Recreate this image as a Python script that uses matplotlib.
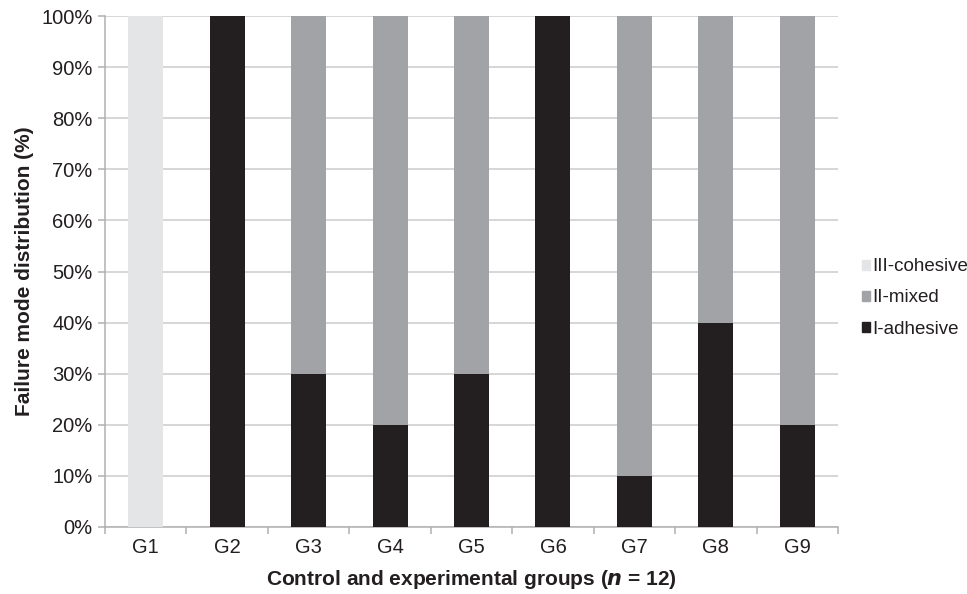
import numpy as np
import matplotlib.pyplot as plt
from matplotlib.patches import Patch
from matplotlib.ticker import PercentFormatter

plt.rcParams['font.family'] = ['Liberation Sans', 'DejaVu Sans']

groups = ["G1", "G2", "G3", "G4", "G5", "G6", "G7", "G8", "G9"]
adhesive = [0, 100, 30, 20, 30, 100, 10, 40, 20]
mixed = [0, 0, 70, 80, 70, 0, 90, 60, 80]
cohesive = [100, 0, 0, 0, 0, 0, 0, 0, 0]

c_adh = "#231f20"
c_mix = "#a2a3a6"
c_coh = "#e4e5e6"
grid_c = "#cbcbcb"
txt_c = "#231f20"

fig = plt.figure(figsize=(9.67, 5.94), dpi=100)
# plot area in pixels: x 105..838, y 16..527
ax = fig.add_axes([105 / 967, 1 - 527 / 594, (838 - 105) / 967, (527 - 16) / 594])

x = np.arange(len(groups))
w = 0.43
ax.bar(x, adhesive, w, color=c_adh, zorder=3)
ax.bar(x, mixed, w, bottom=adhesive, color=c_mix, zorder=3)
ax.bar(x, cohesive, w, bottom=np.array(adhesive) + np.array(mixed), color=c_coh, zorder=3)

ax.set_xlim(-0.5, len(groups) - 0.5)
ax.set_ylim(0, 100)
ax.set_yticks(np.arange(0, 101, 10))
ax.yaxis.set_major_formatter(PercentFormatter(decimals=0))
ax.grid(axis="y", color=grid_c, linewidth=1.1, zorder=0)

ax.set_xticks(x)
ax.set_xticklabels(groups)
ax.set_xticks(np.arange(-0.5, len(groups), 1), minor=True)
ax.tick_params(axis="x", which="major", length=0, pad=8, labelsize=14.5)
ax.tick_params(axis="x", which="minor", length=5, color="#b0b0b0", width=1.1)
ax.tick_params(axis="y", length=5, color="#b0b0b0", width=1.1, labelsize=14.5, pad=4)
for lab in ax.get_yticklabels() + ax.get_xticklabels():
    lab.set_color(txt_c)

for s in ["top", "right"]:
    ax.spines[s].set_visible(False)
for s in ["left", "bottom"]:
    ax.spines[s].set_color("#b0b0b0")
    ax.spines[s].set_linewidth(1.1)

ax.set_ylabel("Failure mode distribution (%)", fontsize=15, fontweight="bold", color=txt_c, labelpad=5)
ax.set_xlabel(r"Control and experimental groups ($\boldsymbol{n}$ = 12)", fontsize=15,
              fontweight="bold", color=txt_c, labelpad=8)

handles = [Patch(color=c_coh, label="III-cohesive"),
           Patch(color=c_mix, label="II-mixed"),
           Patch(color=c_adh, label="I-adhesive")]
fig.legend(handles=handles, loc="center left", bbox_to_anchor=(862 / 967, 1 - 298 / 594), frameon=False,
           fontsize=13.5, handlelength=0.45, handleheight=0.45, handletextpad=0.12, labelspacing=0.75,
           borderpad=0, borderaxespad=0, labelcolor=txt_c)

fig.savefig("out.png", dpi=100)
